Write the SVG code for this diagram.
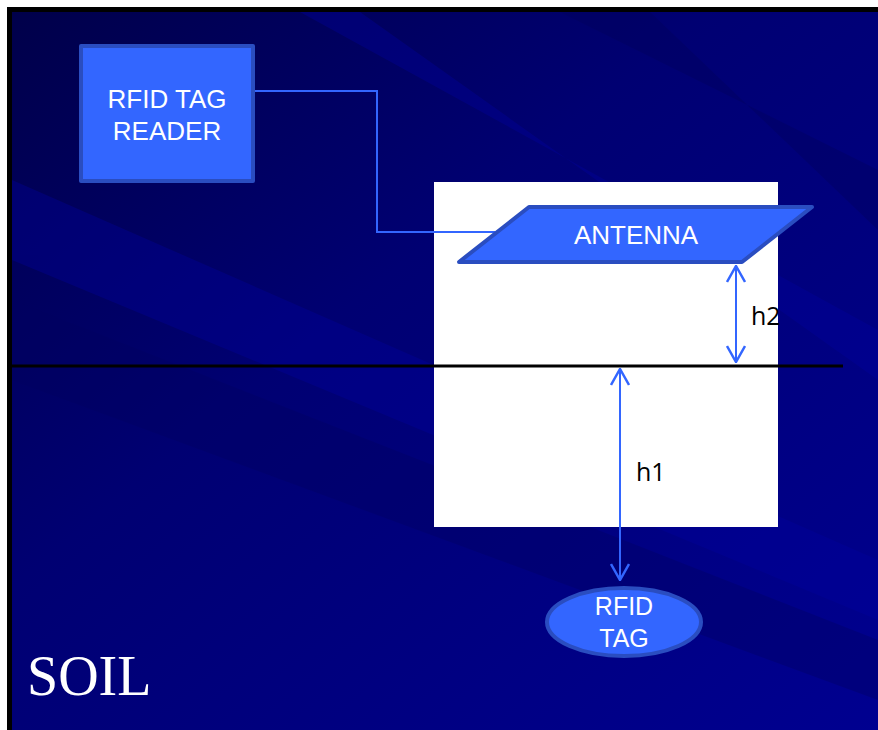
<svg xmlns="http://www.w3.org/2000/svg" width="878" height="730" viewBox="0 0 878 730">
<defs>
<linearGradient id="bg" x1="0" y1="0" x2="1" y2="1">
<stop offset="0" stop-color="#00004A"/>
<stop offset="0.4" stop-color="#000072"/>
<stop offset="1" stop-color="#000090"/>
</linearGradient>
<marker id="ah" viewBox="0 0 18 20" refX="17" refY="10" markerWidth="18" markerHeight="20" markerUnits="userSpaceOnUse" orient="auto-start-reverse">
<path d="M1,1 L17,10 L1,19" fill="none" stroke="#3366FF" stroke-width="2.5"/>
</marker>
<style>
.shape{fill:#3366FF;stroke:#2A4DC0;stroke-width:4;stroke-linejoin:round}
.lbl{font-family:"Liberation Sans",Arial,sans-serif;fill:#FFFFFF;text-anchor:middle}
.dim{font-family:"Open Sans","Liberation Sans",sans-serif;fill:#000000;font-size:25px}
.wire{fill:none;stroke:#3366FF;stroke-width:2}
</style>
</defs>
<rect x="0" y="0" width="878" height="730" fill="#FFFFFF"/>
<rect x="7" y="7" width="871" height="723" fill="#000000"/>
<rect x="12" y="12" width="866" height="718" fill="url(#bg)"/>
<g opacity="0.35">
<polygon points="12,180 878,560 878,620 12,260" fill="#0000A0"/>
<polygon points="12,300 878,640 878,700 12,380" fill="#000060"/>
<polygon points="300,12 878,330 878,380 360,12" fill="#0000A0"/>
<polygon points="560,12 878,170 878,230 650,12" fill="#00005A"/>
</g>
<rect x="434" y="182" width="344" height="345" fill="#FFFFFF"/>
<line x1="10" y1="366" x2="843" y2="366" stroke="#000000" stroke-width="3"/>
<g id="connectors">
<polyline class="wire" points="255,91 377,91 377,232 495,232"/>
<line x1="736" y1="266" x2="736" y2="362" class="wire" stroke-width="2.5" marker-start="url(#ah)" marker-end="url(#ah)"/>
<line x1="620" y1="369" x2="620" y2="580" class="wire" stroke-width="2.5" marker-start="url(#ah)" marker-end="url(#ah)"/>
</g>
<g id="reader">
<rect class="shape" x="81" y="46" width="172" height="135"/>
<text class="lbl" font-size="26" x="167" y="108">RFID TAG</text>
<text class="lbl" font-size="26" x="167" y="140">READER</text>
</g>
<g id="antenna">
<polygon class="shape" points="529,207 812,207 742,262 459,262"/>
<text class="lbl" font-size="26" x="636" y="244">ANTENNA</text>
</g>
<g id="tag">
<ellipse class="shape" cx="624" cy="622" rx="77" ry="34"/>
<text class="lbl" font-size="25" x="624" y="615">RFID</text>
<text class="lbl" font-size="25" x="624" y="647">TAG</text>
</g>
<g id="labels">
<text class="dim" x="751" y="325">h2</text>
<text class="dim" x="636" y="481">h1</text>
<text x="27" y="695" font-family="'Liberation Serif','Times New Roman',serif" font-size="56" fill="#FFFFFF">SOIL</text>
</g>
</svg>
